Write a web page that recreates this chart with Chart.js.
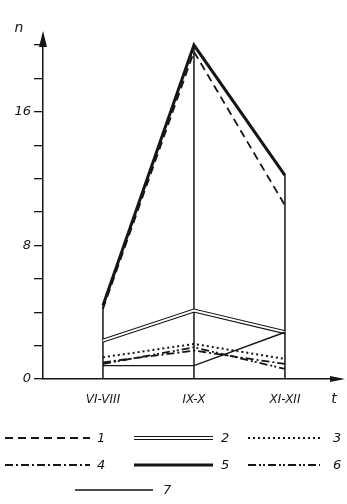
<!DOCTYPE html>
<html>
<head>
<meta charset="utf-8">
<script src="https://cdn.jsdelivr.net/npm/chart.js@4/dist/chart.umd.min.js"></script>
<style>
  body { margin: 0; background: #fff; }
  canvas { display: block; }
</style>
</head>
<body>
<canvas id="chart" width="347" height="504"></canvas>
<script>
// periods on the t axis
var periods = ["VI-VIII", "IX-X", "XI-XII"];
var yTicks = [0, 2, 4, 6, 8, 10, 12, 14, 16, 18, 20];
var yLabelled = [0, 8, 16];

// n for each curve
var s1 = [4.2, 19.6, 10.4];
var s2 = [2.3, 4.1, 2.8];
var s3 = [1.3, 2.1, 1.2];
var s4 = [1.0, 1.7, 0.9];
var s5 = [4.4, 20.0, 12.2];
var s6 = [0.9, 1.9, 0.6];
var s7 = [0.8, 0.8, 2.8];

var INK = "#151515";
var FONT = "italic 13px 'DejaVu Sans'";

function pts(arr) {
  return arr.map(function (v, i) { return { x: i + 1, y: v }; });
}

function line(data, width, dash, order, color) {
  return {
    data: pts(data),
    borderColor: color || INK,
    borderWidth: width,
    borderDash: dash,
    pointRadius: 0,
    tension: 0,
    fill: false,
    order: order || 0
  };
}

// legend look for each curve (drawn by hand below)
var legendStyles = [
  { label: "1", width: 1.8, dash: [8, 5] },
  { label: "2", width: 4, dash: [], dbl: true },
  { label: "3", width: 2, dash: [2, 3] },
  { label: "4", width: 1.8, dash: [8, 3, 2, 3] },
  { label: "5", width: 3, dash: [] },
  { label: "6", width: 1.8, dash: [8, 3, 2, 2, 2, 3] },
  { label: "7", width: 1.4, dash: [] }
];

var extras = {
  id: "extras",
  beforeDatasetsDraw: function (chart) {
    // vertical drop lines from the top curve down to the t axis
    var ctx = chart.ctx, xs = chart.scales.x, ys = chart.scales.y;
    ctx.save();
    ctx.strokeStyle = INK;
    ctx.lineWidth = 1.5;
    periods.forEach(function (p, i) {
      var top = Math.max(s1[i], s2[i], s3[i], s4[i], s5[i], s6[i], s7[i]);
      var x = xs.getPixelForValue(i + 1);
      ctx.beginPath();
      ctx.moveTo(x, ys.getPixelForValue(0));
      ctx.lineTo(x, ys.getPixelForValue(top));
      ctx.stroke();
    });
    ctx.restore();
  },
  afterDraw: function (chart) {
    var ctx = chart.ctx, a = chart.chartArea;
    ctx.save();
    ctx.fillStyle = INK;
    // arrow heads
    ctx.beginPath();
    ctx.moveTo(a.left - 4, a.top + 12);
    ctx.lineTo(a.left, a.top - 4);
    ctx.lineTo(a.left + 4, a.top + 12);
    ctx.fill();
    ctx.beginPath();
    ctx.moveTo(a.right - 10, a.bottom - 3);
    ctx.lineTo(a.right + 5, a.bottom);
    ctx.lineTo(a.right - 10, a.bottom + 3);
    ctx.fill();
    // axis names
    ctx.font = "italic 14px 'DejaVu Sans'";
    ctx.textAlign = "center";
    ctx.textBaseline = "middle";
    ctx.fillText("n", 19, 28);
    ctx.fillText("t", 334, 399);

    // legend
    var cols = [[5, 90, 97], [134, 213, 221], [248, 320, 333]];
    var rows = [438, 465, 490];
    ctx.font = FONT;
    legendStyles.forEach(function (st, i) {
      var c, y;
      if (i < 6) { c = cols[i % 3]; y = rows[Math.floor(i / 3)]; }
      else { c = [75, 153, 163]; y = rows[2]; }
      ctx.strokeStyle = INK;
      ctx.lineWidth = st.width;
      ctx.setLineDash(st.dash);
      ctx.beginPath();
      ctx.moveTo(c[0], y);
      ctx.lineTo(c[1], y);
      ctx.stroke();
      if (st.dbl) {
        ctx.strokeStyle = "#fff";
        ctx.lineWidth = 1.8;
        ctx.beginPath();
        ctx.moveTo(c[0] - 1, y);
        ctx.lineTo(c[1] + 1, y);
        ctx.stroke();
      }
      ctx.setLineDash([]);
      ctx.textAlign = "left";
      ctx.fillText(st.label, c[2], y + 1);
    });
    ctx.restore();
  }
};

new Chart(document.getElementById("chart"), {
  type: "line",
  data: {
    datasets: [
      line(s5, 3, []),
      line(s1, 1.8, [8, 5]),
      line(s3, 2, [2, 3]),
      line(s4, 1.8, [8, 3, 2, 3]),
      line(s6, 1.8, [8, 3, 2, 2, 2, 3]),
      line(s7, 1.4, []),
      line(s2, 1.8, [], 9, "#fff"),
      line(s2, 4, [], 10)
    ]
  },
  options: {
    responsive: false,
    animation: false,
    layout: { padding: { top: 35, right: 7, left: 0, bottom: 0 } },
    plugins: { legend: { display: false }, tooltip: { enabled: false } },
    scales: {
      x: {
        type: "linear",
        min: 0.341,
        max: 3.605,
        afterBuildTicks: function (s) {
          s.ticks = periods.map(function (p, i) { return { value: i + 1 }; });
        },
        afterFit: function (s) { s.height = 125; },
        grid: { display: false },
        border: { display: true, color: INK, width: 1.5 },
        ticks: {
          color: INK,
          font: { family: "'DejaVu Sans'", style: "italic", size: 12 },
          padding: 6,
          maxRotation: 0,
          autoSkip: false,
          callback: function (v) { return periods[Math.round(v) - 1]; }
        }
      },
      y: {
        min: 0,
        max: 20.6,
        afterBuildTicks: function (s) {
          s.ticks = yTicks.map(function (v) { return { value: v }; });
        },
        afterFit: function (s) { s.width = 43; },
        grid: { drawOnChartArea: false, drawTicks: true, tickLength: 9, color: INK, lineWidth: 1.3 },
        border: { display: true, color: INK, width: 1.5 },
        ticks: {
          color: INK,
          font: { family: "'DejaVu Sans'", style: "italic", size: 13 },
          padding: 3,
          autoSkip: false,
          callback: function (v) { return yLabelled.indexOf(v) >= 0 ? String(v) : ""; }
        }
      }
    }
  },
  plugins: [extras]
});
</script>
</body>
</html>
